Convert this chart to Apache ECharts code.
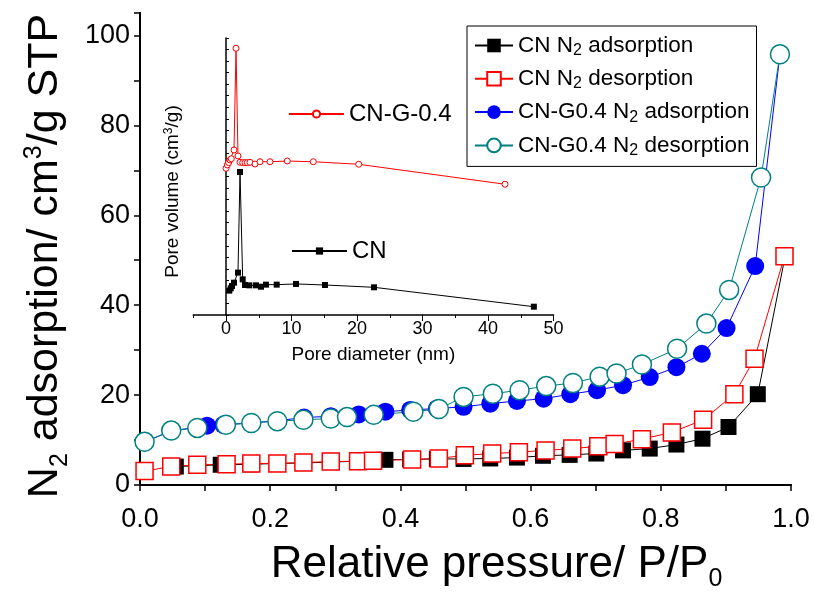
<!DOCTYPE html>
<html><head><meta charset="utf-8">
<script src="https://cdn.jsdelivr.net/npm/echarts@6/dist/echarts.min.js"></script>
<style>html,body{margin:0;padding:0;background:#fff}#c{width:815px;height:597px}</style>
</head><body><div id="c"></div>
<script>
// ---- main isotherm data (relative pressure P/P0, adsorbed volume cm3/g STP)
const seriesNames = ['CN N2 adsorption','CN N2 desorption','CN-G0.4 N2 adsorption','CN-G0.4 N2 desorption'];
const cnAdsP = [0.055,0.124,0.170,0.211,0.252,0.293,0.336,0.377,0.415,0.456,0.497,0.538,0.579,0.619,0.660,0.701,0.742,0.783,0.824,0.864,0.904,0.949,0.991];
const cnAdsV = [4.1,4.5,4.6,4.8,4.9,5.1,5.3,5.6,5.7,5.8,5.8,5.9,6.1,6.5,6.7,7.0,7.7,8.1,9.0,10.3,12.9,20.2,50.9];
const cnDesP = [0.007,0.048,0.088,0.133,0.171,0.211,0.251,0.293,0.335,0.358,0.418,0.459,0.499,0.541,0.582,0.623,0.664,0.704,0.729,0.771,0.817,0.865,0.913,0.944,0.990];
const cnDesV = [3.1,4.1,4.5,4.6,4.8,4.8,5.0,5.2,5.3,5.4,5.7,5.9,6.6,7.0,7.3,7.7,8.1,8.6,9.1,10.2,11.7,14.5,20.2,28.1,50.9];
const cngAdsP = [0.007,0.048,0.103,0.128,0.170,0.211,0.252,0.293,0.336,0.377,0.415,0.456,0.497,0.538,0.579,0.620,0.661,0.702,0.742,0.783,0.824,0.863,0.901,0.945,0.983];
const cngAdsV = [9.6,12.0,13.2,13.4,13.8,14.3,15.0,15.3,15.7,16.3,16.7,17.0,17.4,18.1,18.7,19.2,20.2,21.1,22.2,24.0,26.2,29.2,34.9,48.7,95.8];
const cngDesP = [0.007,0.048,0.088,0.132,0.171,0.211,0.251,0.293,0.318,0.359,0.420,0.459,0.497,0.542,0.583,0.624,0.665,0.706,0.732,0.771,0.825,0.870,0.905,0.954,0.983];
const cngDesV = [9.6,12.1,12.7,13.4,13.8,14.2,14.5,14.8,15.1,15.6,16.3,16.9,19.6,20.3,21.1,22.0,22.7,24.1,24.8,26.8,30.3,35.9,43.4,68.4,95.8];
// ---- inset pore size distribution (pore diameter nm, pore volume arbitrary units)
const insetNames = ['CN-G-0.4','CN'];
const cngPoreD = [0.0,0.2,0.41,0.61,0.81,1.22,1.53,1.83,2.14,2.55,2.9,3.25,3.66,4.43,5.19,6.72,9.36,13.33,20.26,42.6];
const cngPoreVol = [12.71,13.0,13.2,13.43,13.54,14.3,23.11,13.78,13.23,13.2,13.2,13.2,13.23,13.08,13.28,13.28,13.34,13.28,13.06,11.33];
const cnPoreD = [0.5,0.72,0.92,1.22,1.83,2.14,2.55,2.9,3.56,4.58,5.34,6.1,7.74,10.69,15.11,22.6,47.0];
const cnPoreVol = [2.11,2.31,2.51,2.8,3.67,12.39,3.09,2.6,2.57,2.57,2.45,2.63,2.63,2.69,2.6,2.4,0.72];
// ---- tick labels
const mainXTicks = [0,0.2,0.4,0.6,0.8,1.0];
const mainYTicks = [0,20,40,60,80,100];
const insetXTicks = [0,10,20,30,40,50];

const zip = (a,b) => a.map((v,i)=>[v,b[i]]);
const FONT = 'Liberation Sans';
const chart = echarts.init(document.getElementById('c'));
const blackLine = {color:'#000', width:2};

const option = {
  backgroundColor:'#fff',
  animation:false,
  textStyle:{fontFamily:FONT},
  grid:[
    {left:140, right:24, top:13, bottom:100},
    {left:193.25, right:261.5, top:38, height:277},
    {left:226, right:261.5, top:38, height:277}
  ],
  xAxis:[
    {type:'value', gridIndex:0, min:0, max:1, interval:0.2,
     name:'Relative pressure/ P/P{sub|0}', nameLocation:'middle', nameGap:52,
     nameTextStyle:{fontSize:44, color:'#000', fontFamily:FONT, padding:[0,0,0,62],
       rich:{sub:{fontSize:25, padding:[30,0,0,0], fontFamily:FONT}}},
     axisLine:{lineStyle:blackLine}, axisTick:{length:6, lineStyle:{color:'#000', width:1.5}},
     minorTick:{show:true, splitNumber:2, length:6, lineStyle:{color:'#000', width:1.5}},
     splitLine:{show:false},
     axisLabel:{fontSize:27, color:'#000', margin:21, fontFamily:FONT,
       formatter:v=> mainXTicks.some(t=>Math.abs(t-v)<1e-9) ? v.toFixed(1) : ''}},
    {type:'value', gridIndex:0, position:'top', min:0, max:1,
     axisLine:{lineStyle:blackLine}, axisTick:{show:false}, axisLabel:{show:false}, splitLine:{show:false}},
    {type:'value', gridIndex:1, min:-5, max:50, interval:5,
     axisLine:{lineStyle:{color:'#000', width:1.5}}, axisTick:{length:3, lineStyle:{color:'#000'}},
     axisLabel:{show:false}, splitLine:{show:false},
     name:'Pore diameter (nm)', nameLocation:'middle', nameGap:30,
     nameTextStyle:{fontSize:19, color:'#000', fontFamily:FONT}},
    {type:'value', gridIndex:2, min:0, max:50, interval:10,
     axisLine:{show:false}, axisTick:{length:6, lineStyle:{color:'#000'}},
     axisLabel:{fontSize:18, color:'#000', margin:5, fontFamily:FONT,
       formatter:v=> insetXTicks.includes(v) ? String(v) : ''},
     splitLine:{show:false}}
  ],
  yAxis:[
    {type:'value', gridIndex:0, min:0, max:105, interval:10,
     name:'N{sub|2} adsorption/ cm{sup|3}/g STP', nameLocation:'middle', nameGap:67,
     nameTextStyle:{fontSize:43, color:'#000', fontFamily:FONT, padding:[0,14,0,0],
       rich:{sub:{fontSize:25, padding:[30,0,0,0], fontFamily:FONT}, sup:{fontSize:25, padding:[0,0,22,0], fontFamily:FONT}}},
     axisLine:{lineStyle:blackLine}, axisTick:{length:6, lineStyle:{color:'#000', width:1.5}},
     splitLine:{show:false},
     axisLabel:{fontSize:27, color:'#000', margin:10, fontFamily:FONT,
       formatter:v=> mainYTicks.includes(v) ? String(v) : ''}},
    {type:'value', gridIndex:0, position:'right', min:0, max:105, interval:10,
     axisLine:{lineStyle:blackLine}, axisTick:{inside:true, length:5, lineStyle:{color:'#000', width:1.5}},
     axisLabel:{show:false}, splitLine:{show:false}},
    {type:'value', gridIndex:1, min:0, max:24, interval:1,
     axisLine:{lineStyle:{color:'#000', width:1.5}}, axisTick:{inside:true, length:3, lineStyle:{color:'#000'}},
     axisLabel:{show:false}, splitLine:{show:false},
     name:'Pore volume (cm{sup|3}/g)', nameLocation:'middle', nameGap:10,
     nameTextStyle:{fontSize:19, color:'#000', fontFamily:FONT, padding:[0,30,0,0],
       rich:{sup:{fontSize:12, padding:[0,0,9,0], fontFamily:FONT}}}},
    {type:'value', gridIndex:2, min:0, max:1, show:false}
  ],
  legend:[
    {data:seriesNames, orient:'vertical', left:467, top:26, padding:[8,7,8,7], itemGap:8.8,
     itemWidth:38, itemHeight:17, borderColor:'#000', borderWidth:1, backgroundColor:'#fff',
     textStyle:{fontSize:22.5, color:'#000', fontFamily:FONT, rich:{sub:{fontSize:16, padding:[10,0,0,0], fontFamily:FONT}}},
     formatter:n=>n.replace('N2','N{sub|2}')},
    {data:['CN-G-0.4'], left:288, top:102, padding:0, itemWidth:55, itemHeight:9,
     textStyle:{fontSize:24, color:'#000', fontFamily:FONT}},
    {data:['CN'], left:291, top:239, padding:0, itemWidth:55, itemHeight:9,
     textStyle:{fontSize:24, color:'#000', fontFamily:FONT}}
  ],
  series:[
    {name:seriesNames[0], type:'line', xAxisIndex:0, yAxisIndex:0, data:zip(cnAdsP,cnAdsV),
     symbol:'rect', symbolSize:16, itemStyle:{color:'#000'}, lineStyle:{color:'#000', width:1}},
    {name:seriesNames[1], type:'line', xAxisIndex:0, yAxisIndex:0, data:zip(cnDesP,cnDesV),
     symbol:'rect', symbolSize:17, itemStyle:{color:'#fff', borderColor:'#ff0000', borderWidth:1.5}, lineStyle:{color:'#ff0000', width:1}},
    {name:seriesNames[2], type:'line', xAxisIndex:0, yAxisIndex:0, data:zip(cngAdsP,cngAdsV),
     symbol:'circle', symbolSize:18, itemStyle:{color:'#0000ff'}, lineStyle:{color:'#0000ff', width:1}},
    {name:seriesNames[3], type:'line', xAxisIndex:0, yAxisIndex:0, data:zip(cngDesP,cngDesV),
     symbol:'circle', symbolSize:19, itemStyle:{color:'#fff', borderColor:'#008080', borderWidth:1.5}, lineStyle:{color:'#008080', width:1}},
    {name:insetNames[0], type:'line', xAxisIndex:2, yAxisIndex:2, data:zip(cngPoreD,cngPoreVol),
     symbol:'circle', symbolSize:6, itemStyle:{color:'#fff', borderColor:'#ff0000', borderWidth:1}, lineStyle:{color:'#ff0000', width:1}},
    {name:insetNames[1], type:'line', xAxisIndex:2, yAxisIndex:2, data:zip(cnPoreD,cnPoreVol),
     symbol:'rect', symbolSize:6, itemStyle:{color:'#000'}, lineStyle:{color:'#000', width:1}}
  ]
};
chart.setOption(option);
</script></body></html>
